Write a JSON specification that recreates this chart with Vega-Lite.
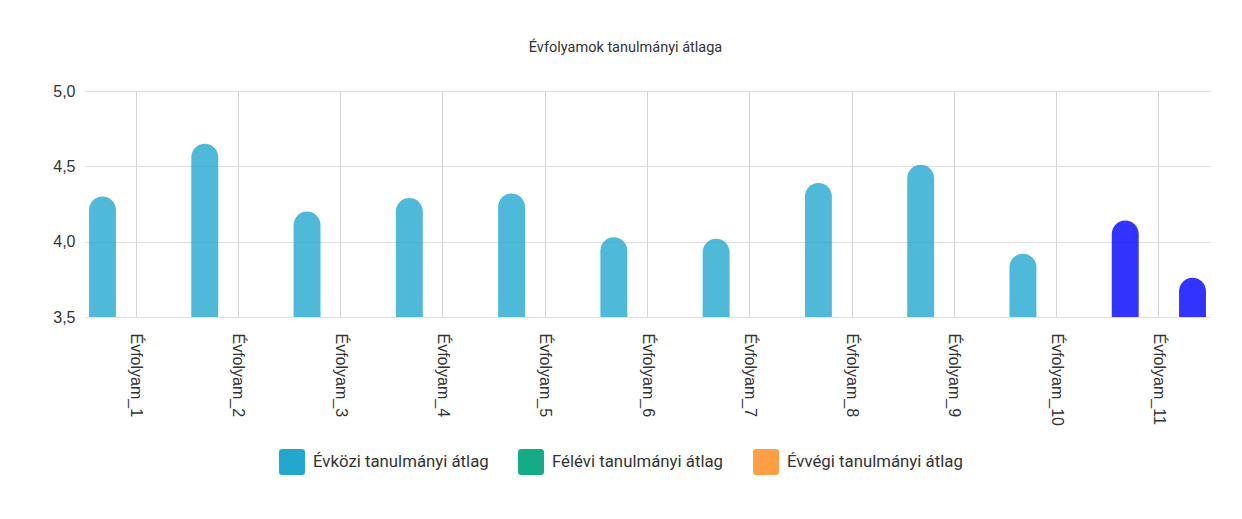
{
  "$schema": "https://vega.github.io/schema/vega-lite/v6.json",
  "width": 1125,
  "height": 226,
  "autosize": {"type": "none"},
  "padding": {"left": 85, "top": 91, "right": 32, "bottom": 202},
  "background": "white",
  "title": {
    "text": "Évfolyamok tanulmányi átlaga",
    "font": "Roboto",
    "fontSize": 14.5,
    "fontWeight": "normal",
    "color": "#333333",
    "anchor": "middle",
    "frame": "group",
    "offset": 28,
    "dx": -22
  },
  "config": {"view": {"stroke": null}},
  "data": {
    "values": [
      {"evfolyam": "Évfolyam_1", "series": "Évközi tanulmányi átlag", "value": 4.30},
      {"evfolyam": "Évfolyam_2", "series": "Évközi tanulmányi átlag", "value": 4.65},
      {"evfolyam": "Évfolyam_3", "series": "Évközi tanulmányi átlag", "value": 4.20},
      {"evfolyam": "Évfolyam_4", "series": "Évközi tanulmányi átlag", "value": 4.29},
      {"evfolyam": "Évfolyam_5", "series": "Évközi tanulmányi átlag", "value": 4.32},
      {"evfolyam": "Évfolyam_6", "series": "Évközi tanulmányi átlag", "value": 4.03},
      {"evfolyam": "Évfolyam_7", "series": "Évközi tanulmányi átlag", "value": 4.02},
      {"evfolyam": "Évfolyam_8", "series": "Évközi tanulmányi átlag", "value": 4.39},
      {"evfolyam": "Évfolyam_9", "series": "Évközi tanulmányi átlag", "value": 4.51},
      {"evfolyam": "Évfolyam_10", "series": "Évközi tanulmányi átlag", "value": 3.92},
      {"evfolyam": "Évfolyam_11", "series": "Évközi tanulmányi átlag", "value": 4.14},
      {"evfolyam": "Évfolyam_11", "series": "Évvégi tanulmányi átlag", "value": 3.76}
    ]
  },
  "mark": {
    "type": "bar",
    "fillOpacity": 0.8,
    "cornerRadiusTopLeft": 14,
    "cornerRadiusTopRight": 14,
    "clip": true
  },
  "encoding": {
    "x": {
      "field": "evfolyam",
      "type": "nominal",
      "sort": null,
      "scale": {"paddingInner": 0, "paddingOuter": 0},
      "axis": {
        "title": null,
        "labelAngle": 90,
        "labelAlign": "left",
        "labelBaseline": "middle",
        "labelPadding": 16,
        "labelFont": "Liberation Sans",
        "labelFontSize": 16,
        "labelColor": "#333333",
        "ticks": false,
        "domain": false,
        "grid": true,
        "bandPosition": 0.5,
        "gridColor": "#d4d4d4",
        "gridWidth": 1
      }
    },
    "xOffset": {
      "field": "series",
      "type": "nominal",
      "scale": {
        "domain": ["Évközi tanulmányi átlag", "Félévi tanulmányi átlag", "Évvégi tanulmányi átlag"],
        "paddingInner": 0.2,
        "paddingOuter": 0.12
      }
    },
    "y": {
      "field": "value",
      "type": "quantitative",
      "scale": {"domain": [3.5, 5], "zero": false, "nice": false},
      "axis": {
        "title": null,
        "values": [3.5, 4, 4.5, 5],
        "labelExpr": "replace(format(datum.value, '.1f'), '.', ',')",
        "labelFont": "Liberation Sans",
        "labelFontSize": 16,
        "labelColor": "#333333",
        "labelPadding": 10,
        "ticks": false,
        "domain": false,
        "grid": true,
        "gridColor": "#e0e0e0",
        "gridWidth": 1
      }
    },
    "y2": {"datum": 3.5},
    "color": {
      "condition": {"test": "datum.evfolyam === 'Évfolyam_11'", "value": "#0000ff"},
      "field": "series",
      "type": "nominal",
      "scale": {
        "domain": ["Évközi tanulmányi átlag", "Félévi tanulmányi átlag", "Évvégi tanulmányi átlag"],
        "range": ["#22a7ce", "#13ac86", "#ff9f43"]
      },
      "legend": {
        "title": null,
        "orient": "none",
        "direction": "horizontal",
        "columns": 3,
        "legendX": 194,
        "legendY": 358,
        "padding": 0,
        "columnPadding": 29,
        "symbolType": "M -1 -0.75 Q -1 -1 -0.75 -1 L 0.75 -1 Q 1 -1 1 -0.75 L 1 0.75 Q 1 1 0.75 1 L -0.75 1 Q -1 1 -1 0.75 Z",
        "symbolSize": 676,
        "symbolOpacity": 1,
        "symbolStrokeWidth": 0,
        "labelOffset": 8,
        "labelFont": "Roboto",
        "labelFontSize": 16.8,
        "labelColor": "#333333",
        "labelLimit": 300
      }
    }
  }
}
